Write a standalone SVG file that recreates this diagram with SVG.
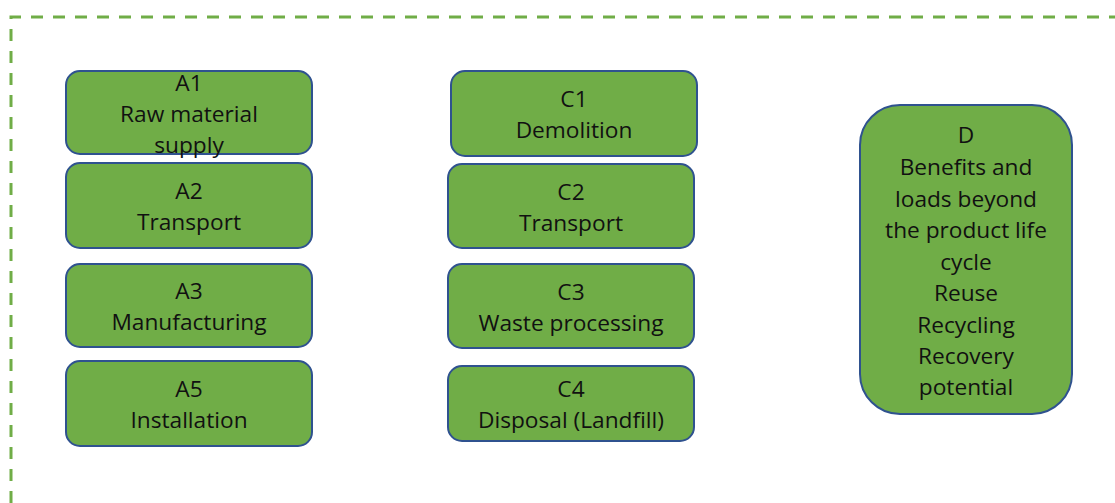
<svg xmlns="http://www.w3.org/2000/svg" width="1115" height="503" viewBox="0 0 1115 503">
<style>
.box{fill:#70AD47;stroke:#2F528F;stroke-width:2}
.t{font-family:"Open Sans","Noto Sans",sans-serif;font-size:22.7px;fill:#111;text-anchor:middle}
.frame{fill:none;stroke:#70AD47;stroke-width:3;stroke-dasharray:12 10}
</style>
<rect width="1115" height="503" fill="#fff"/>
<g id="frame"><path class="frame" d="M11,503 L11,17 L1115,17"/></g>
<g id="connectors"></g>
<g id="A1"><rect class="box" x="66" y="71" width="246" height="83" rx="14"/><text class="t" x="189" y="91">A1</text><text class="t" x="189" y="122">Raw material</text><text class="t" x="189" y="153">supply</text></g>
<g id="A2"><rect class="box" x="66" y="163" width="246" height="85" rx="14"/><text class="t" x="189" y="199">A2</text><text class="t" x="189" y="230">Transport</text></g>
<g id="A3"><rect class="box" x="66" y="264" width="246" height="83" rx="14"/><text class="t" x="189" y="299">A3</text><text class="t" x="189" y="330">Manufacturing</text></g>
<g id="A5"><rect class="box" x="66" y="361" width="246" height="85" rx="14"/><text class="t" x="189" y="397">A5</text><text class="t" x="189" y="428">Installation</text></g>
<g id="C1"><rect class="box" x="451" y="71" width="246" height="85" rx="14"/><text class="t" x="574" y="107">C1</text><text class="t" x="574" y="138">Demolition</text></g>
<g id="C2"><rect class="box" x="448" y="164" width="246" height="84" rx="14"/><text class="t" x="571" y="200">C2</text><text class="t" x="571" y="231">Transport</text></g>
<g id="C3"><rect class="box" x="448" y="264" width="246" height="84" rx="14"/><text class="t" x="571" y="300">C3</text><text class="t" x="571" y="331">Waste processing</text></g>
<g id="C4"><rect class="box" x="448" y="366" width="246" height="75" rx="14"/><text class="t" x="571" y="397">C4</text><text class="t" x="571" y="428">Disposal (Landfill)</text></g>
<g id="D"><rect class="box" x="860" y="105" width="212" height="309" rx="40"/>
<text class="t" x="966" y="143">D</text>
<text class="t" x="966" y="175">Benefits and</text>
<text class="t" x="966" y="207">loads beyond</text>
<text class="t" x="966" y="238">the product life</text>
<text class="t" x="966" y="270">cycle</text>
<text class="t" x="966" y="301">Reuse</text>
<text class="t" x="966" y="333">Recycling</text>
<text class="t" x="966" y="364">Recovery</text>
<text class="t" x="966" y="395">potential</text>
</g>
</svg>
